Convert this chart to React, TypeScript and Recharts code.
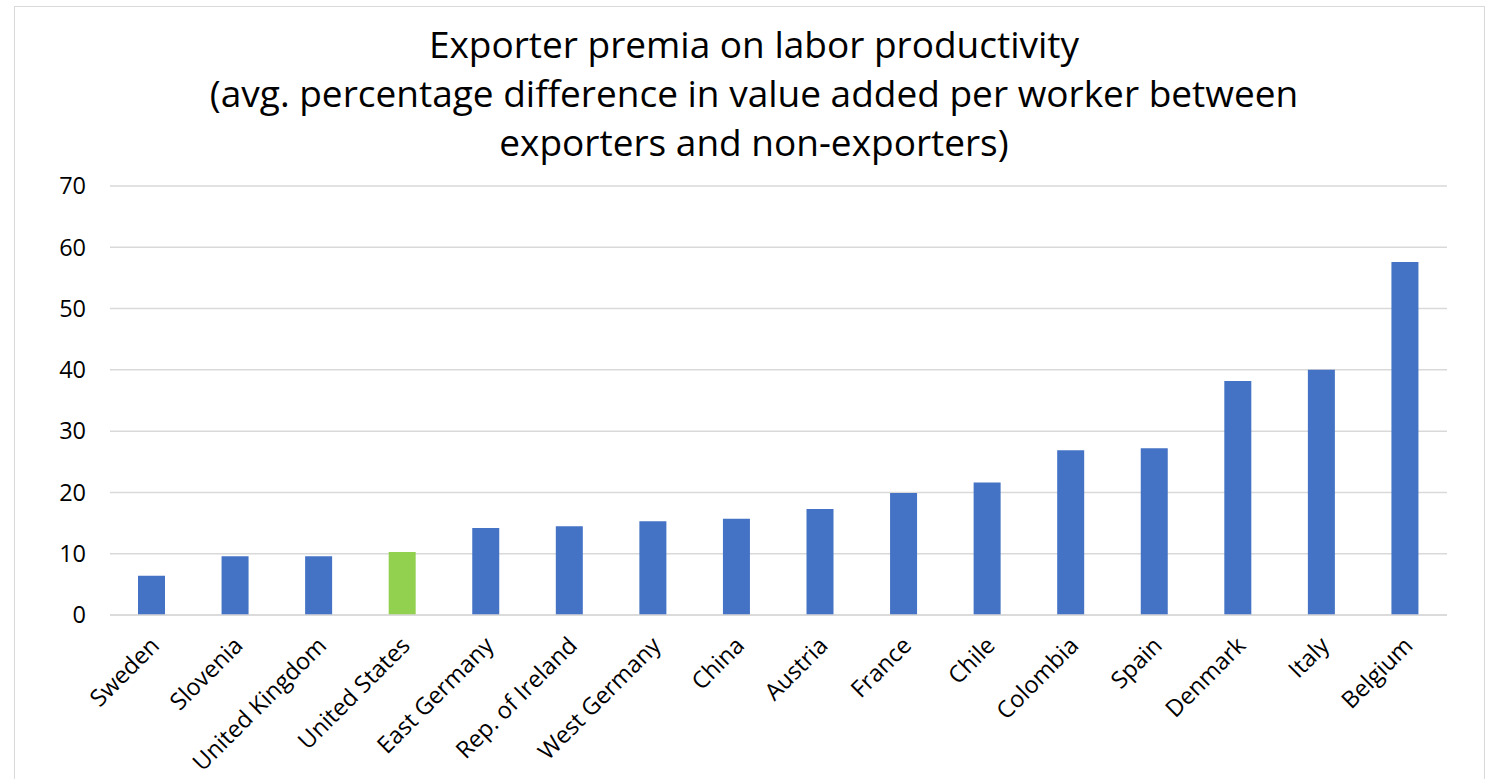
import { BarChart, Bar, XAxis, YAxis, CartesianGrid, Cell } from 'recharts';

const countries = [
  'Sweden', 'Slovenia', 'United Kingdom', 'United States', 'East Germany',
  'Rep. of Ireland', 'West Germany', 'China', 'Austria', 'France', 'Chile',
  'Colombia', 'Spain', 'Denmark', 'Italy', 'Belgium',
];
const premia = [6.4, 9.6, 9.6, 10.3, 14.2, 14.5, 15.3, 15.7, 17.3, 19.9, 21.6, 26.9, 27.2, 38.2, 40.0, 57.6];
const highlighted = ['United States'];
const yTicks = [0, 10, 20, 30, 40, 50, 60, 70];
const titleLines = [
  'Exporter premia on labor productivity',
  '(avg. percentage difference in value added per worker between',
  'exporters and non-exporters)',
];

const data = countries.map((country, i) => ({ country, value: premia[i] }));

const FONT = '"Open Sans", Lato, sans-serif';

const CountryTick = ({ x, y, payload }: { x?: number; y?: number; payload?: { value: string } }) => {
  const tx = (x ?? 0) + 9;
  const ty = (y ?? 0) + 24;
  return (
    <text
      x={tx}
      y={ty}
      textAnchor="end"
      transform={`rotate(-45 ${tx} ${ty})`}
      fill="#000"
      fontSize={23.5}
      fontFamily={FONT}
    >
      {payload?.value}
    </text>
  );
};

export default function App() {
  return (
    <div style={{ position: 'absolute', left: 0, top: 0, width: 1493, height: 779, background: '#fff', overflow: 'hidden' }}>
      <div
        style={{
          position: 'absolute', left: 14, top: 6, width: 1471, height: 800,
          border: '1.5px solid #d9d9d9', boxSizing: 'border-box',
        }}
      />
      <div
        style={{
          position: 'absolute', left: 18, top: 19, width: 1472, textAlign: 'center',
          fontFamily: FONT, fontSize: 37, lineHeight: '49px', color: '#000',
        }}
      >
        {titleLines.map((t) => (
          <div key={t}>{t}</div>
        ))}
      </div>
      <div style={{ position: 'absolute', left: 0, top: 0 }}>
        <BarChart width={1493} height={779} data={data} margin={{ top: 186, right: 46, bottom: 4, left: 20 }}>
          <CartesianGrid vertical={false} stroke="#d9d9d9" strokeWidth={1.5} />
          <XAxis
            dataKey="country"
            interval={0}
            height={160}
            axisLine={{ stroke: '#d9d9d9', strokeWidth: 1.5 }}
            tickLine={false}
            tick={<CountryTick />}
          />
          <YAxis
            domain={[0, 70]}
            ticks={yTicks}
            width={90}
            axisLine={false}
            tickLine={false}
            tickSize={0}
            tickMargin={24}
            tick={{ fill: '#000', fontSize: 23.5, fontFamily: FONT }}
          />
          <Bar dataKey="value" barSize={27} isAnimationActive={false}>
            {data.map((d) => (
              <Cell key={d.country} fill={highlighted.includes(d.country) ? '#92d050' : '#4472c4'} />
            ))}
          </Bar>
        </BarChart>
      </div>
    </div>
  );
}
